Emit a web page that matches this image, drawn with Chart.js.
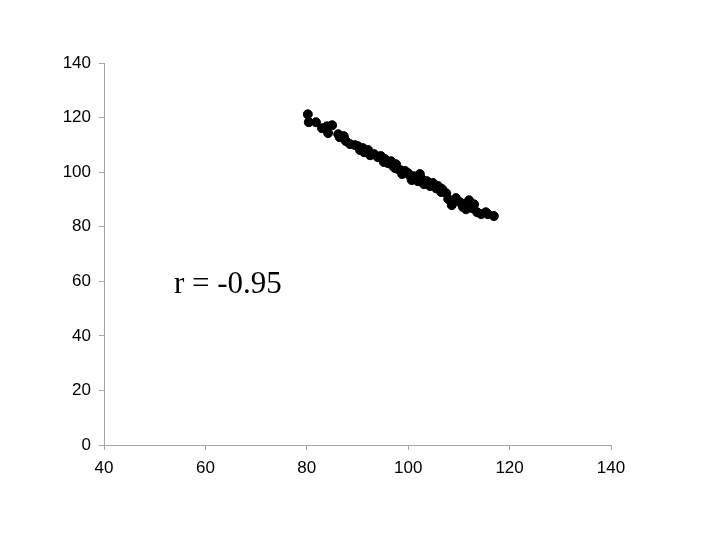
<!DOCTYPE html>
<html>
<head>
<meta charset="utf-8">
<script src="https://cdn.jsdelivr.net/npm/chart.js@4/dist/chart.umd.min.js"></script>
<style>
  html, body { margin: 0; padding: 0; background: #fff; }
  #wrap { width: 720px; height: 540px; }
</style>
</head>
<body>
<div id="wrap"><canvas id="chart" width="720" height="540"></canvas></div>
<script>
// values
const xvals = [80.2, 80.4, 81.8, 83.0, 84.2, 84.0, 85.0, 86.2, 86.5, 87.3, 87.7, 88.5, 89.5, 90.1, 91.1,
    91.3, 92.1, 92.5, 93.3, 94.0, 94.6, 95.4, 96.0, 96.6, 97.0, 97.6, 98.0, 98.8, 99.4, 100.0,
    100.4, 101.1, 101.7, 102.3, 102.7, 103.1, 103.7, 104.3, 104.9, 105.5, 105.9, 106.7, 107.5, 107.9,
    108.6, 109.4, 110.2, 110.8, 111.6, 112.0, 112.6, 113.6, 114.4, 115.3, 115.7, 116.9,
    97.4, 98.4, 101.9, 103.9, 100.7, 95.2, 90.5, 106.5, 111.4, 113.0];
const yvals = [121.2, 118.3, 118.3, 116.1, 114.3, 116.8, 117.2, 113.9, 112.8, 113.2, 111.4, 110.3, 109.9, 109.5, 108.8,
    107.3, 108.1, 106.2, 106.6, 105.5, 105.9, 104.8, 103.3, 104.0, 102.2, 102.9, 101.1, 99.3, 100.4, 99.6,
    98.5, 98.5, 97.8, 99.3, 97.4, 95.6, 96.7, 94.9, 96.0, 94.1, 94.9, 93.8, 92.3, 90.1,
    87.9, 90.5, 89.0, 87.2, 88.6, 89.7, 86.8, 85.3, 84.6, 85.3, 84.6, 83.9,
    101.5, 100.8, 96.7, 95.6, 97.1, 103.7, 108.1, 92.7, 86.4, 88.2];
const xticks = [40, 60, 80, 100, 120, 140];
const yticks = [0, 20, 40, 60, 80, 100, 120, 140];
const note = 'r = -0.95';

let points = [];
for (let i = 0; i < xvals.length; i++) {
    points.push({ x: xvals[i], y: yvals[i] });
}

// text label drawn at a data position
const notePlugin = {
    id: 'note',
    afterDatasetsDraw(chart) {
        const c = chart.ctx;
        const px = chart.scales.x.getPixelForValue(53.8);
        const py = chart.scales.y.getPixelForValue(58.6);
        c.save();
        c.fillStyle = '#000';
        c.font = '31px "Liberation Serif", "Times New Roman", serif';
        c.textAlign = 'left';
        c.textBaseline = 'middle';
        c.fillText(note, px, py);
        c.restore();
    }
};

const tickFont = { family: '"Liberation Sans", Arial, sans-serif', size: 17 };

new Chart(document.getElementById('chart'), {
    type: 'scatter',
    data: {
        datasets: [{
            data: points,
            backgroundColor: '#000',
            borderColor: '#000',
            pointRadius: 4.5,
            pointHoverRadius: 4.5
        }]
    },
    options: {
        responsive: false,
        animation: false,
        events: [],
        layout: { padding: { left: 0, top: 63, right: 109, bottom: 55 } },
        plugins: { legend: { display: false }, tooltip: { enabled: false } },
        scales: {
            x: {
                type: 'linear',
                min: 40, max: 140,
                afterBuildTicks: s => { s.ticks = xticks.map(v => ({ value: v })); },
                afterFit: s => { s.height = 40; },
                grid: { drawOnChartArea: false, drawTicks: true, tickLength: 5, color: '#a6a6a6' },
                border: { color: '#a6a6a6' },
                ticks: { color: '#000', font: tickFont, padding: 8, maxRotation: 0 }
            },
            y: {
                type: 'linear',
                min: 0, max: 140,
                afterBuildTicks: s => { s.ticks = yticks.map(v => ({ value: v })); },
                afterFit: s => { s.width = 104; },
                grid: { drawOnChartArea: false, drawTicks: true, tickLength: 5, color: '#a6a6a6' },
                border: { color: '#a6a6a6' },
                ticks: { color: '#000', font: tickFont, padding: 8 }
            }
        }
    },
    plugins: [notePlugin]
});
</script>
</body>
</html>
